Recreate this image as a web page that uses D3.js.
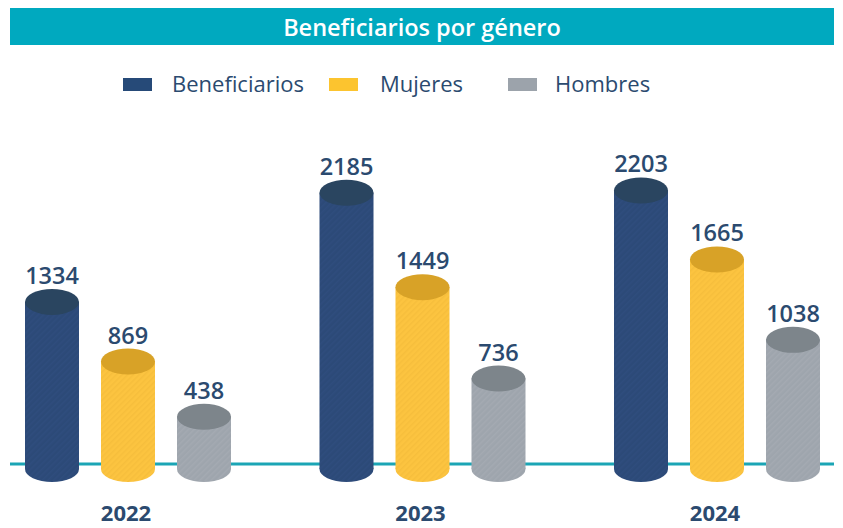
<!DOCTYPE html>
<html><head><meta charset="utf-8">
<script src="https://cdn.jsdelivr.net/npm/d3@7"></script>
<style>
html,body{margin:0;padding:0;background:#fff;}
svg{display:block;font-family:"Open Sans","Noto Sans",sans-serif;}
</style></head>
<body><svg id="c" width="843" height="528"></svg>
<script>
const title = "Beneficiarios por género";
const years = ["2022", "2023", "2024"];
const series = ["Beneficiarios", "Mujeres", "Hombres"];
const beneficiarios = [1334, 2185, 2203];
const mujeres = [869, 1449, 1665];
const hombres = [438, 736, 1038];

const bodyColors = ["#2c4a78", "#fcc440", "#9ea5ad"];
const topColors = ["#2a4560", "#d8a227", "#7d858b"];
const stripeColors = ["#32508180", "#f6be3c", "#a4aab2"];
const legendColors = ["#264a78", "#fcc42f", "#9ca3ab"];
const textColor = "#2b4a6f";

const values = [beneficiarios, mujeres, hombres];
const svg = d3.select("#c");

// defs: stripe patterns
const defs = svg.append("defs");
series.forEach((s, i) => {
  const p = defs.append("pattern").attr("id", "p" + i)
    .attr("patternUnits", "userSpaceOnUse").attr("width", 4).attr("height", 4)
    .attr("patternTransform", "rotate(45)");
  p.append("rect").attr("width", 4).attr("height", 4).attr("fill", bodyColors[i]);
  p.append("rect").attr("width", 1.5).attr("height", 4).attr("fill", stripeColors[i]);
});

// title bar
svg.append("rect").attr("x", 10).attr("y", 8).attr("width", 824).attr("height", 37).attr("fill", "#00a9bf");
svg.append("text").attr("x", 422).attr("y", 36).attr("text-anchor", "middle")
  .attr("fill", "#fff").attr("font-size", 23.5).attr("font-weight", 600).text(title);

// legend
const legX = [123, 329, 508];
const legTx = [172, 380, 555];
series.forEach((s, i) => {
  svg.append("rect").attr("x", legX[i]).attr("y", 78).attr("width", 29).attr("height", 13).attr("fill", legendColors[i]);
  svg.append("text").attr("x", legTx[i]).attr("y", 92).attr("fill", textColor)
    .attr("font-size", 22).attr("font-weight", 500).text(s);
});

// scales
const x = d3.scalePoint().domain(years).range([128, 717]);
const xi = d3.scalePoint().domain(series).range([-76, 76]);
const y = d3.scaleLinear().domain([0, 2300]).range([473, 178]);
const baseY = 469, rx = 27, ry = 13;

// baseline
svg.append("line").attr("x1", 10).attr("x2", 834).attr("y1", 464).attr("y2", 464)
  .attr("stroke", "#1ba5b5").attr("stroke-width", 3);

const data = [];
years.forEach((yr, j) => series.forEach((s, i) => data.push({yr, s, i, v: values[i][j]})));

const g = svg.append("g").selectAll("g").data(data).join("g")
  .attr("transform", d => `translate(${x(d.yr) + xi(d.s)},0)`);

g.append("ellipse").attr("cx", 0).attr("cy", baseY).attr("rx", rx).attr("ry", ry)
  .attr("fill", d => `url(#p${d.i})`);
g.append("rect").attr("x", -rx).attr("y", d => y(d.v)).attr("width", rx * 2)
  .attr("height", d => baseY - y(d.v)).attr("fill", d => `url(#p${d.i})`);
g.append("ellipse").attr("cx", 0).attr("cy", d => y(d.v)).attr("rx", rx).attr("ry", ry)
  .attr("fill", d => topColors[d.i]);
g.append("text").attr("x", 0).attr("y", d => y(d.v) - ry - 5).attr("text-anchor", "middle")
  .attr("fill", textColor).attr("font-size", 23.5).attr("font-weight", 600).text(d => d.v);

// year labels
svg.append("g").selectAll("text").data(years).join("text")
  .attr("x", d => x(d) - 2).attr("y", 521).attr("text-anchor", "middle")
  .attr("fill", textColor).attr("font-size", 22).attr("font-weight", 700).text(d => d);
</script></body></html>
